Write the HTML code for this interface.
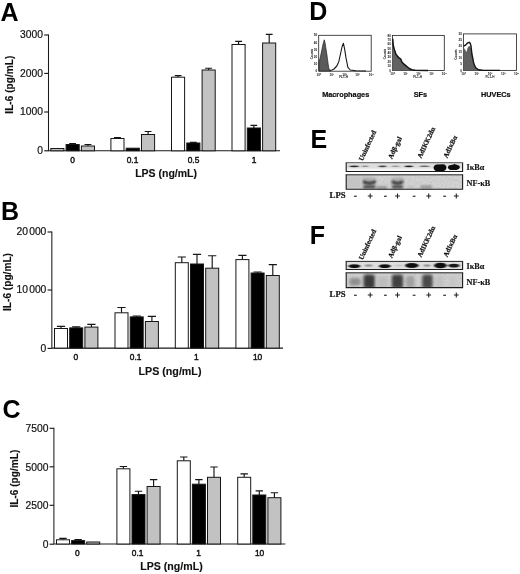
<!DOCTYPE html>
<html><head><meta charset="utf-8"><title>Figure</title>
<style>
html,body{margin:0;padding:0;background:#fff;}
svg{display:block}
.tk{font:10.3px "Liberation Sans",sans-serif;fill:#111;stroke:#111;stroke-width:0.2px}
.tk2{font:9.5px "Liberation Sans",sans-serif;fill:#111;stroke:#111;stroke-width:0.2px}
.tx{font:8.4px "Liberation Sans",sans-serif;fill:#111;stroke:#111;stroke-width:0.42px}
.al{font:bold 10.9px "Liberation Sans",sans-serif;fill:#111;stroke:#111;stroke-width:0.12px}
.L{font:bold 25px "Liberation Sans",sans-serif;fill:#000}
.sm{font:bold 7.3px "Liberation Sans",sans-serif;fill:#111;stroke:#111;stroke-width:0.22px}
.sf{font:bold 8.7px "Liberation Serif",serif;fill:#111;stroke:#111;stroke-width:0.2px}
.sf2{font:bold 8.2px "Liberation Serif",serif;fill:#111;stroke:#111;stroke-width:0.15px}
.rt{font:bold 6.95px "Liberation Serif",serif;fill:#111;stroke:#111;stroke-width:0.22px}
.t3{font:bold 3.1px "Liberation Sans",sans-serif;fill:#111}
</style></head><body>
<svg width="520" height="574" viewBox="0 0 520 574">
<rect width="520" height="574" fill="#fff"/>
<text x="0.5" y="21" class="L">A</text>
<path d="M48.5 34.4 V150.8 H280" fill="none" stroke="#1a1a1a" stroke-width="1.05"/>
<path d="M44.2 150.8 H48.5" stroke="#111" stroke-width="1.1"/>
<text x="43.0" y="153.9" text-anchor="end" class="tk">0</text>
<path d="M44.2 112 H48.5" stroke="#111" stroke-width="1.1"/>
<text x="43.0" y="115.1" text-anchor="end" class="tk">1000</text>
<path d="M44.2 73.4 H48.5" stroke="#111" stroke-width="1.1"/>
<text x="43.0" y="76.5" text-anchor="end" class="tk">2000</text>
<path d="M44.2 35 H48.5" stroke="#111" stroke-width="1.1"/>
<text x="43.0" y="38.1" text-anchor="end" class="tk">3000</text>
<rect x="50.8" y="148.5" width="13.1" height="2.3" fill="#c2c2c2" stroke="#161616" stroke-width="1"/>
<path d="M72.6 144.5 V143.5 M69.2 143.5 H76.0" stroke="#151515" stroke-width="1.15" fill="none"/>
<rect x="66.1" y="144.5" width="13.1" height="6.3" fill="#000000" stroke="#161616" stroke-width="1"/>
<path d="M88.0 146 V144.5 M84.5 144.5 H91.4" stroke="#151515" stroke-width="1.15" fill="none"/>
<rect x="81.4" y="146" width="13.1" height="4.8" fill="#c2c2c2" stroke="#161616" stroke-width="1"/>
<path d="M117.5 138.5 V137.6 M114.0 137.6 H120.9" stroke="#151515" stroke-width="1.15" fill="none"/>
<rect x="110.9" y="138.5" width="13.1" height="12.3" fill="#ffffff" stroke="#161616" stroke-width="1"/>
<rect x="126.2" y="148.2" width="13.1" height="2.6" fill="#000000" stroke="#161616" stroke-width="1"/>
<path d="M148.1 134.5 V131.5 M144.7 131.5 H151.5" stroke="#151515" stroke-width="1.15" fill="none"/>
<rect x="141.5" y="134.5" width="13.1" height="16.3" fill="#c2c2c2" stroke="#161616" stroke-width="1"/>
<path d="M178.1 77.2 V75.6 M174.7 75.6 H181.5" stroke="#151515" stroke-width="1.15" fill="none"/>
<rect x="171.5" y="77.2" width="13.1" height="73.6" fill="#ffffff" stroke="#161616" stroke-width="1"/>
<path d="M193.4 143 V142.4 M190.0 142.4 H196.8" stroke="#151515" stroke-width="1.15" fill="none"/>
<rect x="186.8" y="143" width="13.1" height="7.8" fill="#000000" stroke="#161616" stroke-width="1"/>
<path d="M208.7 70 V68.2 M205.2 68.2 H212.1" stroke="#151515" stroke-width="1.15" fill="none"/>
<rect x="202.1" y="70" width="13.1" height="80.8" fill="#c2c2c2" stroke="#161616" stroke-width="1"/>
<path d="M238.6 44.5 V41.3 M235.2 41.3 H242.0" stroke="#151515" stroke-width="1.15" fill="none"/>
<rect x="232.0" y="44.5" width="13.1" height="106.3" fill="#ffffff" stroke="#161616" stroke-width="1"/>
<path d="M253.9 128 V125.4 M250.5 125.4 H257.2" stroke="#151515" stroke-width="1.15" fill="none"/>
<rect x="247.3" y="128" width="13.1" height="22.8" fill="#000000" stroke="#161616" stroke-width="1"/>
<path d="M269.2 43 V34.3 M265.8 34.3 H272.6" stroke="#151515" stroke-width="1.15" fill="none"/>
<rect x="262.6" y="43" width="13.1" height="107.8" fill="#c2c2c2" stroke="#161616" stroke-width="1"/>
<text x="72.5" y="163" text-anchor="middle" class="tx">0</text>
<text x="132.5" y="163" text-anchor="middle" class="tx">0.1</text>
<text x="193.5" y="163" text-anchor="middle" class="tx">0.5</text>
<text x="254" y="163" text-anchor="middle" class="tx">1</text>
<text x="166.1" y="177.4" text-anchor="middle" class="al" style="font-size:10.5px">LPS (ng/mL)</text>
<text transform="translate(13 84.7) rotate(-90)" text-anchor="middle" class="al" style="font-size:10.15px">IL-6 (pg/mL)</text>
<text x="1" y="220.4" class="L">B</text>
<path d="M51.85 231.4 V348.1 H283" fill="none" stroke="#1a1a1a" stroke-width="1.05"/>
<path d="M47.550000000000004 348.4 H51.85" stroke="#111" stroke-width="1.1"/>
<text x="46.35" y="351.8" text-anchor="end" class="tk">0</text>
<path d="M47.550000000000004 290 H51.85" stroke="#111" stroke-width="1.1"/>
<text x="46.35" y="293.4" text-anchor="end" class="tk">10<tspan dx="-1.6"> </tspan>000</text>
<path d="M47.550000000000004 232 H51.85" stroke="#111" stroke-width="1.1"/>
<text x="46.35" y="235.4" text-anchor="end" class="tk">20<tspan dx="-1.6"> </tspan>000</text>
<path d="M61.0 328.5 V326.3 M56.9 326.3 H65.1" stroke="#151515" stroke-width="1.15" fill="none"/>
<rect x="54.5" y="328.5" width="13.0" height="19.6" fill="#ffffff" stroke="#161616" stroke-width="1"/>
<path d="M76.2 327.9 V326.8 M72.1 326.8 H80.3" stroke="#151515" stroke-width="1.15" fill="none"/>
<rect x="69.7" y="327.9" width="13.0" height="20.2" fill="#000000" stroke="#161616" stroke-width="1"/>
<path d="M91.4 327.1 V324.4 M87.3 324.4 H95.5" stroke="#151515" stroke-width="1.15" fill="none"/>
<rect x="84.9" y="327.1" width="13.0" height="21.0" fill="#c2c2c2" stroke="#161616" stroke-width="1"/>
<path d="M121.5 312.8 V307.5 M117.4 307.5 H125.6" stroke="#151515" stroke-width="1.15" fill="none"/>
<rect x="115.0" y="312.8" width="13.0" height="35.3" fill="#ffffff" stroke="#161616" stroke-width="1"/>
<path d="M136.7 316.9 V316 M132.6 316 H140.8" stroke="#151515" stroke-width="1.15" fill="none"/>
<rect x="130.2" y="316.9" width="13.0" height="31.2" fill="#000000" stroke="#161616" stroke-width="1"/>
<path d="M151.9 321.5 V316.3 M147.8 316.3 H156.0" stroke="#151515" stroke-width="1.15" fill="none"/>
<rect x="145.4" y="321.5" width="13.0" height="26.6" fill="#c2c2c2" stroke="#161616" stroke-width="1"/>
<path d="M181.8 262.7 V257 M177.7 257 H185.9" stroke="#151515" stroke-width="1.15" fill="none"/>
<rect x="175.3" y="262.7" width="13.0" height="85.4" fill="#ffffff" stroke="#161616" stroke-width="1"/>
<path d="M197.0 264 V254.3 M192.9 254.3 H201.1" stroke="#151515" stroke-width="1.15" fill="none"/>
<rect x="190.5" y="264" width="13.0" height="84.1" fill="#000000" stroke="#161616" stroke-width="1"/>
<path d="M212.2 268.2 V255.7 M208.1 255.7 H216.3" stroke="#151515" stroke-width="1.15" fill="none"/>
<rect x="205.7" y="268.2" width="13.0" height="79.9" fill="#c2c2c2" stroke="#161616" stroke-width="1"/>
<path d="M242.4 259.6 V255.4 M238.3 255.4 H246.5" stroke="#151515" stroke-width="1.15" fill="none"/>
<rect x="235.9" y="259.6" width="13.0" height="88.5" fill="#ffffff" stroke="#161616" stroke-width="1"/>
<path d="M257.6 273 V272 M253.5 272 H261.7" stroke="#151515" stroke-width="1.15" fill="none"/>
<rect x="251.1" y="273" width="13.0" height="75.1" fill="#000000" stroke="#161616" stroke-width="1"/>
<path d="M272.8 275.5 V264.6 M268.7 264.6 H276.9" stroke="#151515" stroke-width="1.15" fill="none"/>
<rect x="266.3" y="275.5" width="13.0" height="72.6" fill="#c2c2c2" stroke="#161616" stroke-width="1"/>
<text x="75.8" y="360.2" text-anchor="middle" class="tx">0</text>
<text x="135.6" y="360.2" text-anchor="middle" class="tx">0.1</text>
<text x="196.3" y="360.2" text-anchor="middle" class="tx">1</text>
<text x="257.6" y="360.2" text-anchor="middle" class="tx">10</text>
<text x="170" y="375" text-anchor="middle" class="al" style="font-size:10.7px">LPS (ng/mL)</text>
<text transform="translate(10.5 282) rotate(-90)" text-anchor="middle" class="al" style="font-size:10.15px">IL-6 (pg/mL)</text>
<text x="2.6" y="417.8" class="L">C</text>
<path d="M53.9 427.7 V544.0 H285.3" fill="none" stroke="#1a1a1a" stroke-width="1.05"/>
<path d="M49.6 544.2 H53.9" stroke="#111" stroke-width="1.1"/>
<text x="48.4" y="548.2" text-anchor="end" class="tk">0</text>
<path d="M49.6 505.3 H53.9" stroke="#111" stroke-width="1.1"/>
<text x="48.4" y="509.3" text-anchor="end" class="tk">2500</text>
<path d="M49.6 466.8 H53.9" stroke="#111" stroke-width="1.1"/>
<text x="48.4" y="470.8" text-anchor="end" class="tk">5000</text>
<path d="M49.6 428.3 H53.9" stroke="#111" stroke-width="1.1"/>
<text x="48.4" y="432.3" text-anchor="end" class="tk">7500</text>
<path d="M63.0 539.8 V538.3 M59.3 538.3 H66.7" stroke="#151515" stroke-width="1.15" fill="none"/>
<rect x="56.5" y="539.8" width="13.0" height="4.2" fill="#ffffff" stroke="#161616" stroke-width="1"/>
<path d="M78.1 540.6 V539.6 M74.4 539.6 H81.8" stroke="#151515" stroke-width="1.15" fill="none"/>
<rect x="71.6" y="540.6" width="13.0" height="3.4" fill="#000000" stroke="#161616" stroke-width="1"/>
<rect x="86.7" y="542" width="13.0" height="2.0" fill="#c2c2c2" stroke="#161616" stroke-width="1"/>
<path d="M123.4 468.8 V466.5 M119.7 466.5 H127.1" stroke="#151515" stroke-width="1.15" fill="none"/>
<rect x="116.9" y="468.8" width="13.0" height="75.2" fill="#ffffff" stroke="#161616" stroke-width="1"/>
<path d="M138.5 494.6 V491.2 M134.8 491.2 H142.2" stroke="#151515" stroke-width="1.15" fill="none"/>
<rect x="132.0" y="494.6" width="13.0" height="49.4" fill="#000000" stroke="#161616" stroke-width="1"/>
<path d="M153.6 486.5 V479.6 M149.9 479.6 H157.3" stroke="#151515" stroke-width="1.15" fill="none"/>
<rect x="147.1" y="486.5" width="13.0" height="57.5" fill="#c2c2c2" stroke="#161616" stroke-width="1"/>
<path d="M183.8 460.8 V457 M180.1 457 H187.5" stroke="#151515" stroke-width="1.15" fill="none"/>
<rect x="177.3" y="460.8" width="13.0" height="83.2" fill="#ffffff" stroke="#161616" stroke-width="1"/>
<path d="M198.9 484.2 V479.6 M195.2 479.6 H202.6" stroke="#151515" stroke-width="1.15" fill="none"/>
<rect x="192.4" y="484.2" width="13.0" height="59.8" fill="#000000" stroke="#161616" stroke-width="1"/>
<path d="M214.0 477.3 V467 M210.3 467 H217.7" stroke="#151515" stroke-width="1.15" fill="none"/>
<rect x="207.5" y="477.3" width="13.0" height="66.7" fill="#c2c2c2" stroke="#161616" stroke-width="1"/>
<path d="M244.2 477.3 V473.8 M240.5 473.8 H247.9" stroke="#151515" stroke-width="1.15" fill="none"/>
<rect x="237.7" y="477.3" width="13.0" height="66.7" fill="#ffffff" stroke="#161616" stroke-width="1"/>
<path d="M259.3 495 V490.8 M255.6 490.8 H263.0" stroke="#151515" stroke-width="1.15" fill="none"/>
<rect x="252.8" y="495" width="13.0" height="49.0" fill="#000000" stroke="#161616" stroke-width="1"/>
<path d="M274.4 497.7 V492.7 M270.7 492.7 H278.1" stroke="#151515" stroke-width="1.15" fill="none"/>
<rect x="267.9" y="497.7" width="13.0" height="46.3" fill="#c2c2c2" stroke="#161616" stroke-width="1"/>
<text x="77.3" y="556.2" text-anchor="middle" class="tx">0</text>
<text x="137.7" y="556.2" text-anchor="middle" class="tx">0.1</text>
<text x="198.5" y="556.2" text-anchor="middle" class="tx">1</text>
<text x="259.6" y="556.2" text-anchor="middle" class="tx">10</text>
<text x="171.5" y="570.2" text-anchor="middle" class="al" style="font-size:10.6px">LPS (ng/mL)</text>
<text transform="translate(17.8 478.6) rotate(-90)" text-anchor="middle" class="al" style="font-size:10.15px">IL-6 (pg/mL)</text>
<defs>
<filter id="b1" x="-30%" y="-60%" width="160%" height="220%"><feGaussianBlur stdDeviation="0.9"/></filter>
<filter id="b2" x="-30%" y="-60%" width="160%" height="220%"><feGaussianBlur stdDeviation="1.5"/></filter>
<filter id="b06" x="-10%" y="-40%" width="120%" height="180%"><feGaussianBlur stdDeviation="1.0"/></filter>
<filter id="b15" x="-5%" y="-30%" width="110%" height="160%"><feGaussianBlur stdDeviation="1.5"/></filter>
<clipPath id="cF"><rect x="346.2" y="272.8" width="116.4" height="14.8"/></clipPath>
<filter id="b07" x="-10%" y="-80%" width="120%" height="260%"><feGaussianBlur stdDeviation="0.9 0.5"/></filter>
<filter id="b08" x="-10%" y="-80%" width="120%" height="260%"><feGaussianBlur stdDeviation="0.8 0.6"/></filter>
<filter id="b05" x="-10%" y="-10%" width="120%" height="120%"><feGaussianBlur stdDeviation="0.45"/></filter>
<filter id="nz" x="0" y="0" width="100%" height="100%"><feTurbulence type="fractalNoise" baseFrequency="0.55" numOctaves="2" seed="3" result="t"/><feColorMatrix in="t" type="matrix" values="0 0 0 0 0  0 0 0 0 0  0 0 0 0 0  0.9 0.9 0 0 -0.78" result="n"/><feComposite in="n" in2="SourceGraphic" operator="in"/></filter>
</defs>
<text x="309.3" y="19.6" class="L">D</text>
<text x="310.5" y="148" class="L">E</text>
<text x="309.7" y="244.4" class="L">F</text>
<rect x="318.7" y="35.3" width="52.5" height="35.900000000000006" fill="#fff" stroke="#2a2a2a" stroke-width="0.85"/>
<text x="317.3" y="36.4" text-anchor="end" class="t3">50</text>
<text x="317.3" y="43.6" text-anchor="end" class="t3">40</text>
<text x="317.3" y="50.8" text-anchor="end" class="t3">30</text>
<text x="317.3" y="58.0" text-anchor="end" class="t3">20</text>
<text x="317.3" y="65.1" text-anchor="end" class="t3">10</text>
<text x="317.3" y="72.3" text-anchor="end" class="t3">0</text>
<text x="318.7" y="75.60000000000001" text-anchor="middle" class="t3">10⁰</text>
<text x="331.7" y="75.60000000000001" text-anchor="middle" class="t3">10¹</text>
<text x="344.6" y="75.60000000000001" text-anchor="middle" class="t3">10²</text>
<text x="357.6" y="75.60000000000001" text-anchor="middle" class="t3">10³</text>
<text x="371.2" y="75.60000000000001" text-anchor="middle" class="t3">10⁴</text>
<text transform="translate(313.3 54) rotate(-90)" text-anchor="middle" class="t3">Counts</text>
<text x="343.6" y="78.4" text-anchor="middle" class="t3">FL1-H</text>
<g filter="url(#b05)"><path d="M319 71 L319 61 L320 58.6 L321 54 L322 49 L323.4 42.6 L324.3 39.8 L325.2 43.5 L326 49 L326.8 54 L327.8 61.5 L328.7 68 L329.6 70.2 L331 71 Z" fill="#5a5a5a" stroke="#222" stroke-width="0.7"/>
<path d="M329.6 70.4 L332 70 L334 69 L336.8 66 L338.8 61.7 L340.7 53 L342.1 46.5 L343.4 43.3 L344.5 48.3 L346 57.9 L347.9 67.3 L350.3 70 L356 70.8 L366 71" fill="none" stroke="#1a1a1a" stroke-width="1.1" stroke-linejoin="round"/></g>
<rect x="392.4" y="35.4" width="51.900000000000034" height="35.1" fill="#fff" stroke="#2a2a2a" stroke-width="0.85"/>
<text x="391.0" y="36.5" text-anchor="end" class="t3">80</text>
<text x="391.0" y="40.9" text-anchor="end" class="t3">70</text>
<text x="391.0" y="45.3" text-anchor="end" class="t3">60</text>
<text x="391.0" y="49.7" text-anchor="end" class="t3">50</text>
<text x="391.0" y="54.1" text-anchor="end" class="t3">40</text>
<text x="391.0" y="58.4" text-anchor="end" class="t3">30</text>
<text x="391.0" y="62.8" text-anchor="end" class="t3">20</text>
<text x="391.0" y="67.2" text-anchor="end" class="t3">10</text>
<text x="391.0" y="71.6" text-anchor="end" class="t3">0</text>
<text x="392.4" y="74.9" text-anchor="middle" class="t3">10⁰</text>
<text x="405.4" y="74.9" text-anchor="middle" class="t3">10¹</text>
<text x="418.4" y="74.9" text-anchor="middle" class="t3">10²</text>
<text x="431.4" y="74.9" text-anchor="middle" class="t3">10³</text>
<text x="444.3" y="74.9" text-anchor="middle" class="t3">10⁴</text>
<text transform="translate(386.2 54) rotate(-90)" text-anchor="middle" class="t3">Counts</text>
<text x="417.7" y="77.8" text-anchor="middle" class="t3">FL1-H</text>
<g filter="url(#b05)"><path d="M392.6 70.4 L392.6 38.7 L393.2 45.6 L394.5 49.9 L395.8 53.8 L397.5 56.4 L399.3 58.1 L400.6 59 L401.9 62 L404 64.2 L406.6 66.3 L409.2 68.5 L411.8 69.8 L415.3 70.3 Z" fill="#626262"/>
<path d="M392.7 38.7 L393.3 45.6 L394.5 49.9 L395.8 53.8 L397.5 56.4 L399.3 58.1 L400.6 58.8 L401.9 62 L404 64.2 L406.6 66.3 L409.2 68.5 L411.8 69.7 L415.3 70.2 L428 70.4" fill="none" stroke="#151515" stroke-width="1.5" stroke-linejoin="round"/></g>
<rect x="463.4" y="33.9" width="53.10000000000002" height="36.50000000000001" fill="#fff" stroke="#2a2a2a" stroke-width="0.85"/>
<text x="462.0" y="35.0" text-anchor="end" class="t3">30</text>
<text x="462.0" y="41.1" text-anchor="end" class="t3">25</text>
<text x="462.0" y="47.2" text-anchor="end" class="t3">20</text>
<text x="462.0" y="53.3" text-anchor="end" class="t3">15</text>
<text x="462.0" y="59.3" text-anchor="end" class="t3">10</text>
<text x="462.0" y="65.4" text-anchor="end" class="t3">5</text>
<text x="462.0" y="71.5" text-anchor="end" class="t3">0</text>
<text x="463.4" y="74.80000000000001" text-anchor="middle" class="t3">10⁰</text>
<text x="476.7" y="74.80000000000001" text-anchor="middle" class="t3">10¹</text>
<text x="490" y="74.80000000000001" text-anchor="middle" class="t3">10²</text>
<text x="503.2" y="74.80000000000001" text-anchor="middle" class="t3">10³</text>
<text x="516.5" y="74.80000000000001" text-anchor="middle" class="t3">10⁴</text>
<text transform="translate(457 54.5) rotate(-90)" text-anchor="middle" class="t3">Counts</text>
<text x="490" y="78" text-anchor="middle" class="t3">FL1-H</text>
<g filter="url(#b05)"><path d="M463.6 70.3 L463.6 47.5 L465 49.5 L466.4 52 L467.4 48.5 L468.4 46.6 L469.5 46 L470.4 46.4 L471 48 L471.9 54 L472.8 58.5 L473.6 62.6 L474.6 65.6 L475.8 67.8 L478.4 69.8 L482.7 70.3 Z" fill="#606060"/>
<path d="M463.7 46.2 L465.8 44.9 L467.5 43 L469.3 42.3 L470.3 43.5 L471 46 L471.9 54 L472.8 58.5 L473.6 62.6 L474.6 65.6 L475.8 67.8 L478.4 69.7 L482.7 70.2 L500 70.4" fill="none" stroke="#151515" stroke-width="1.4" stroke-linejoin="round"/>
</g>
<text x="345.7" y="96.9" text-anchor="middle" class="sm">Macrophages</text>
<text x="420.4" y="96.7" text-anchor="middle" class="sm">SFs</text>
<text x="495.8" y="96.5" text-anchor="middle" class="sm">HUVECs</text>
<text transform="translate(362.7 161.2) rotate(-65)" class="rt">Uninfected</text>
<text transform="translate(392 159.6) rotate(-65)" class="rt">Adβ-gal</text>
<text transform="translate(421.2 158.8) rotate(-65)" class="rt">AdIKK2dn</text>
<text transform="translate(447.2 158.6) rotate(-65)" class="rt">AdIκBα</text>
<rect x="346.2" y="162.7" width="116.40000000000003" height="8.800000000000011" fill="#dedede"/>
<rect x="346.2" y="168.6" width="116.40000000000003" height="2.4" fill="#f4f4f4"/>
<g filter="url(#b07)">
<ellipse cx="354.2" cy="166.3" rx="4.8" ry="0.85" fill="#2a2a2a"/>
<ellipse cx="365.1" cy="166.3" rx="3.7" ry="0.70" fill="#8c8c8c"/>
<ellipse cx="382.5" cy="166.3" rx="4.1" ry="0.85" fill="#444"/>
<ellipse cx="395.5" cy="166.3" rx="4.3" ry="0.70" fill="#999"/>
<ellipse cx="408.8" cy="166.3" rx="4.2" ry="0.90" fill="#222"/>
<ellipse cx="424.5" cy="166.3" rx="5.1" ry="0.75" fill="#686868"/>
</g>
<g filter="url(#b05)"><path d="M433.6 167.8 Q433.8 165 437 164.6 L443 164.2 Q446.2 164.6 446.4 167.6 Q446.2 170.8 443 171.2 L437.5 171.4 Q433.8 171 433.6 167.8 Z" fill="#0c0c0c"/>
<path d="M447.9 167 Q448.2 165.2 451 165 L453.6 164.6 L454.6 163.8 L455.6 164.6 L457.6 165 Q459.8 165.6 459.9 167.2 Q459.6 169.4 456.5 169.9 L451 170.1 Q448 169.6 447.9 167 Z" fill="#0c0c0c"/></g>
<path d="M346.2 162.7 V171.5 H462.6 V162.7" fill="none" stroke="#1a1a1a" stroke-width="1.1"/>
<path d="M345.65 162.7 H463.15000000000003" fill="none" stroke="#555" stroke-width="1"/>
<rect x="346.2" y="174.8" width="116.40000000000003" height="14.399999999999977" fill="#d3d3d3"/>
<rect x="346.2" y="174.8" width="116.40000000000003" height="14.4" fill="#000" filter="url(#nz)" opacity="0.13"/>
<g filter="url(#b1)">
<rect x="347" y="176" width="14" height="12" fill="#c4c4c4"/>
<rect x="363" y="177.4" width="12.600000000000023" height="11" fill="#adadad"/>
<rect x="391.8" y="177.4" width="11.399999999999977" height="11" fill="#adadad"/>
</g><g filter="url(#b06)">
<path d="M363 180.6 Q369.3 184 375.6 180.6 L375.6 182.8 Q369.3 185.6 363 182.8 Z" fill="#0a0a0a"/>
<rect x="363.5" y="185.8" width="11.600000000000023" height="2.2" fill="#333"/>
<path d="M391.8 180.6 Q397.5 184 403.2 180.6 L403.2 182.8 Q397.5 185.6 391.8 182.8 Z" fill="#0a0a0a"/>
<rect x="392.3" y="185.8" width="10.399999999999977" height="2.2" fill="#333"/>
<rect x="376.5" y="186.6" width="10.5" height="2" fill="#777"/>
<rect x="420.5" y="185.6" width="11.5" height="2.8" fill="#909090"/>
<rect x="407" y="186.4" width="8" height="1.8" fill="#b8b8b8"/>
</g>
<path d="M346.2 174.8 V189.2 H462.6 V174.8" fill="none" stroke="#1a1a1a" stroke-width="1.1"/>
<path d="M345.65 174.8 H463.15000000000003" fill="none" stroke="#222" stroke-width="1"/>
<text x="466.5" y="170" class="sf2">IκBα</text>
<text x="466.5" y="186.1" class="sf2">NF-κB</text>
<text x="329.6" y="198.3" class="sf">LPS</text>
<rect x="354.0" y="195.70000000000002" width="2.8" height="1.1" fill="#222"/>
<path d="M367.8 196.0 H372.59999999999997 M370.2 193.6 V198.4" stroke="#222" stroke-width="1.05"/>
<rect x="384.0" y="195.70000000000002" width="2.8" height="1.1" fill="#222"/>
<path d="M395.1 196.0 H399.9 M397.5 193.6 V198.4" stroke="#222" stroke-width="1.05"/>
<rect x="412.7" y="195.70000000000002" width="2.8" height="1.1" fill="#222"/>
<path d="M426.3 196.0 H431.09999999999997 M428.7 193.6 V198.4" stroke="#222" stroke-width="1.05"/>
<rect x="443.2" y="195.70000000000002" width="2.8" height="1.1" fill="#222"/>
<path d="M453.90000000000003 196.0 H458.7 M456.3 193.6 V198.4" stroke="#222" stroke-width="1.05"/>
<text transform="translate(362.7 260.2) rotate(-65)" class="rt">Uninfected</text>
<text transform="translate(392 258.6) rotate(-65)" class="rt">Adβ-gal</text>
<text transform="translate(421.2 257.8) rotate(-65)" class="rt">AdIKK2dn</text>
<text transform="translate(447.2 257.6) rotate(-65)" class="rt">AdIκBα</text>
<rect x="346.2" y="261.4" width="116.40000000000003" height="8.100000000000023" fill="#dedede"/>
<g filter="url(#b08)">
<ellipse cx="354.4" cy="266.1" rx="6.0" ry="1.95" fill="#0c0c0c"/>
<ellipse cx="368.6" cy="265.6" rx="4.0" ry="1.25" fill="#9a9a9a"/>
<ellipse cx="384.8" cy="266.1" rx="6.0" ry="1.95" fill="#0c0c0c"/>
<ellipse cx="398.8" cy="265.6" rx="4.1" ry="1.05" fill="#c6c6c6"/>
<ellipse cx="411.8" cy="265.5" rx="6.7" ry="2.60" fill="#080808"/>
<ellipse cx="427.0" cy="265.6" rx="3.6" ry="1.25" fill="#999"/>
<ellipse cx="440.4" cy="265.5" rx="6.3" ry="2.75" fill="#080808"/>
<ellipse cx="453.9" cy="265.6" rx="5.6" ry="1.85" fill="#141414"/>
</g>
<path d="M346.2 261.4 V269.5 H462.6 V261.4" fill="none" stroke="#1a1a1a" stroke-width="1.1"/>
<path d="M345.65 261.4 H463.15000000000003" fill="none" stroke="#222" stroke-width="1"/>
<rect x="346.2" y="272.8" width="116.40000000000003" height="14.800000000000011" fill="#d0d0d0"/>
<rect x="346.2" y="272.8" width="116.40000000000003" height="14.8" fill="#000" filter="url(#nz)" opacity="0.13"/>
<g clip-path="url(#cF)"><g filter="url(#b15)">
<rect x="349.5" y="278" width="11.0" height="7.5" rx="2.5" fill="#8e8e8e"/>
<rect x="363.6" y="274.6" width="11.2" height="13.9" rx="2.5" fill="#3a3a3a"/>
<rect x="377.5" y="277" width="10.5" height="11.0" rx="2.5" fill="#bdbdbd"/>
<rect x="391.8" y="274.6" width="11.2" height="13.9" rx="2.5" fill="#404040"/>
<rect x="406" y="276" width="8.5" height="12.0" rx="2.5" fill="#a0a0a0"/>
<rect x="422.2" y="274.6" width="10.4" height="13.9" rx="2.5" fill="#484848"/>
<rect x="435.5" y="276" width="8.5" height="12.0" rx="2.5" fill="#c2c2c2"/>
<rect x="449" y="276" width="8.0" height="12.0" rx="2.5" fill="#c6c6c6"/>
</g></g>
<path d="M346.2 272.8 V287.6 H462.6 V272.8" fill="none" stroke="#1a1a1a" stroke-width="1.1"/>
<path d="M345.65 272.8 H463.15000000000003" fill="none" stroke="#222" stroke-width="1"/>
<text x="466.5" y="268.8" class="sf2">IκBα</text>
<text x="466.5" y="284.9" class="sf2">NF-κB</text>
<text x="329.6" y="297.29999999999995" class="sf">LPS</text>
<rect x="354.0" y="294.7" width="2.8" height="1.1" fill="#222"/>
<path d="M367.8 295.0 H372.59999999999997 M370.2 292.59999999999997 V297.4" stroke="#222" stroke-width="1.05"/>
<rect x="384.0" y="294.7" width="2.8" height="1.1" fill="#222"/>
<path d="M395.1 295.0 H399.9 M397.5 292.59999999999997 V297.4" stroke="#222" stroke-width="1.05"/>
<rect x="412.7" y="294.7" width="2.8" height="1.1" fill="#222"/>
<path d="M426.3 295.0 H431.09999999999997 M428.7 292.59999999999997 V297.4" stroke="#222" stroke-width="1.05"/>
<rect x="443.2" y="294.7" width="2.8" height="1.1" fill="#222"/>
<path d="M453.90000000000003 295.0 H458.7 M456.3 292.59999999999997 V297.4" stroke="#222" stroke-width="1.05"/>
</svg>
</body></html>
